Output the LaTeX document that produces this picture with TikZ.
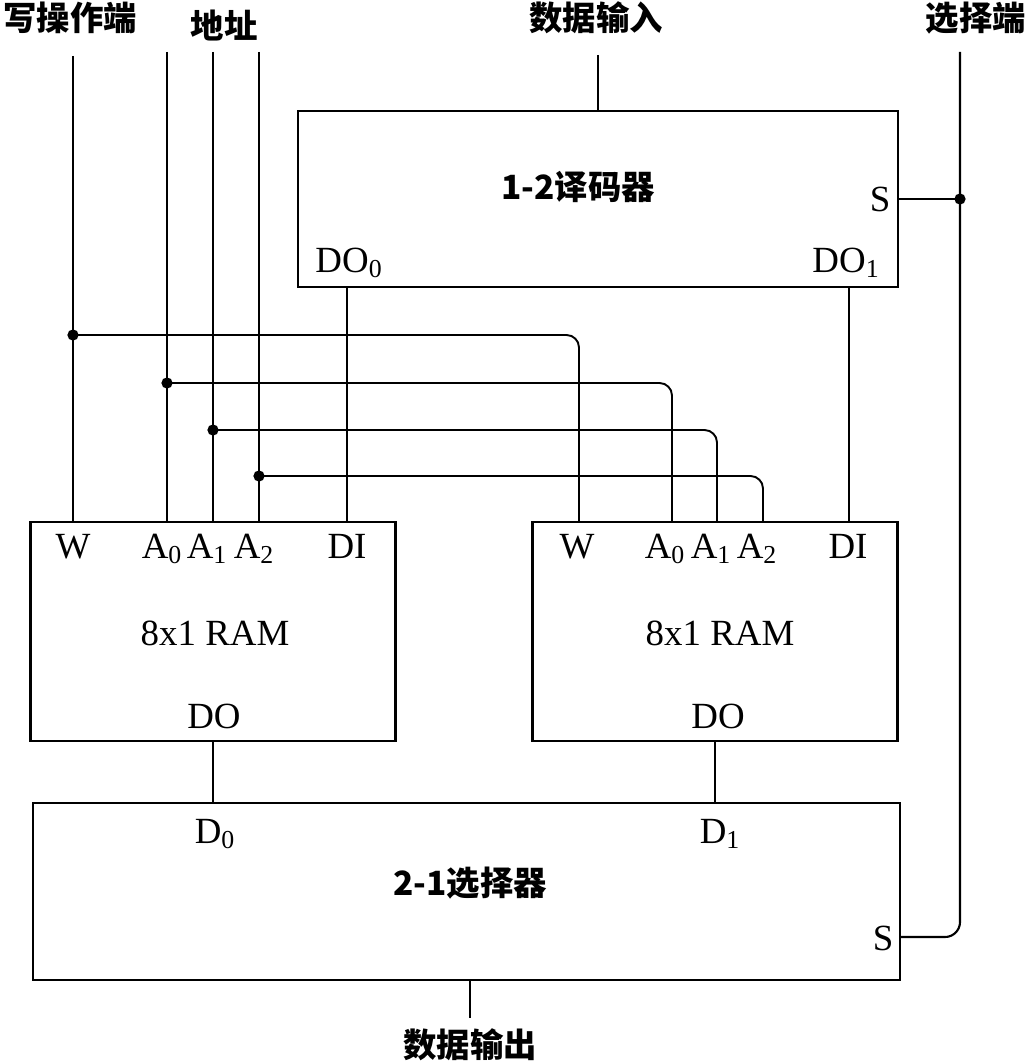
\documentclass[tikz,border=0pt]{standalone}
\usepackage{fontspec}
\setmainfont{Liberation Serif}
\newfontfamily\cjk{Noto Sans CJK SC}

\begin{document}
\begin{tikzpicture}[x=0.02cm,y=-0.02cm,line width=1.6pt,
  box/.style={draw,line width=1.6pt,inner sep=0pt},
  pin/.style={anchor=base,inner sep=0pt,font=\fontsize{21}{24}\selectfont},
  hz/.style={inner sep=0pt,font=\cjk\bfseries\fontsize{19}{22}\selectfont},
  bus/.style={line width=1.1pt,rounded corners=0.25cm}]
\useasboundingbox (0,0) rectangle (1028,1064);
% boxes
\node[box,minimum width=12cm,minimum height=3.52cm] (dec) at (598,199) {};
\node[box,minimum width=7.3cm,minimum height=4.38cm] (ram0) at (213,631.5) {};
\node[box,minimum width=7.3cm,minimum height=4.38cm] (ram1) at (715,631.5) {};
\node[box,minimum width=17.34cm,minimum height=3.54cm] (mux) at (466.5,891.5) {};
% outside labels
\node[hz] (lw) at (70,18) {写操作端};
\node[hz] (laddr) at (224,26) {地址};
\node[hz] (lin) at (596,18) {数据输入};
\node[hz] (lsel) at (976,18) {选择端};
\node[hz] (lout) at (470,1045) {数据输出};
% decoder text
\node[hz] (dect) at (578,187) {1-2译码器};
\node[pin] (decs) at (880,212) {S};
\node[pin] (ldo0) at (349,272) {DO\textsubscript{0}};
\node[pin] (ldo1) at (846,272) {DO\textsubscript{1}};
% ram text
\node[pin] (lw0) at (73,558) {W};
\node[pin] (la00) at (162,558) {A\textsubscript{0}};
\node[pin] (la10) at (207,558) {A\textsubscript{1}};
\node[pin] (la20) at (254,558) {A\textsubscript{2}};
\node[pin] (ldi0) at (347,558) {DI};
\node[pin] (ram0t) at (215,645) {8x1 RAM};
\node[pin] (ram0o) at (214,728) {DO};
\node[pin] (lw1) at (577,558) {W};
\node[pin] (la01) at (665,558) {A\textsubscript{0}};
\node[pin] (la11) at (711,558) {A\textsubscript{1}};
\node[pin] (la21) at (757,558) {A\textsubscript{2}};
\node[pin] (ldi1) at (848,558) {DI};
\node[pin] (ram1t) at (720,645) {8x1 RAM};
\node[pin] (ram1o) at (718,728) {DO};
% mux text
\node[pin] (ld0) at (215,843) {D\textsubscript{0}};
\node[pin] (ld1) at (720,843) {D\textsubscript{1}};
\node[hz] (muxt) at (470,883) {2-1选择器};
\node[pin] (muxs) at (883,950) {S};
% wire ends
\coordinate (wtop) at (73,56);
\coordinate (a0top) at (167,52);
\coordinate (a1top) at (213,52);
\coordinate (a2top) at (259,52);
\coordinate (intop) at (598,55);
\coordinate (seltop) at (960,52);
\coordinate (do0) at (347,0);
\coordinate (do1) at (849,0);
\coordinate (jw) at (73,335);
\coordinate (ja0) at (167,383);
\coordinate (ja1) at (213,430);
\coordinate (ja2) at (259,476);
\coordinate (w1) at (579,522);
\coordinate (a01) at (672,522);
\coordinate (a11) at (717,522);
\coordinate (a21) at (763,522);
\coordinate (jsel) at (960,199);
\coordinate (smux) at (900,937);
% wires
\draw (wtop) -- (wtop |- ram0.north);
\draw (a0top) -- (a0top |- ram0.north);
\draw (a1top) -- (a1top |- ram0.north);
\draw (a2top) -- (a2top |- ram0.north);
\draw (intop) -- (intop |- dec.north);
\draw (dec.south -| do0) -- (ram0.north -| do0);
\draw (dec.south -| do1) -- (ram1.north -| do1);
\draw[bus] (jw) -| (w1);
\draw[bus] (ja0) -| (a01);
\draw[bus] (ja1) -| (a11);
\draw[bus] (ja2) -| (a21);
\draw (dec.east) -- (jsel);
\draw[line width=1.2pt,rounded corners=0.3cm] (seltop) |- (smux);
\draw (ram0.south) -- (ram0.south |- mux.north);
\draw (ram1.south) -- (ram1.south |- mux.north);
\draw[line width=1.2pt] (mux.south -| lout) -- ([yshift=0.2cm]lout.north);
\foreach \j in {jw,ja0,ja1,ja2,jsel}
  \fill (\j) circle (3.2pt);
\end{tikzpicture}
\end{document}
